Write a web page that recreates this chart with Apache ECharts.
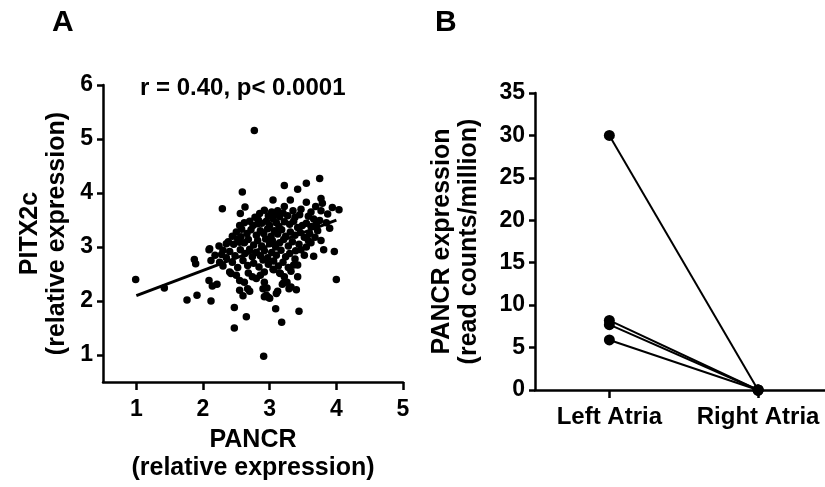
<!DOCTYPE html>
<html>
<head>
<meta charset="utf-8">
<script src="https://cdn.jsdelivr.net/npm/echarts@6/dist/echarts.min.js"></script>
<style>
  html, body { margin: 0; padding: 0; background: #fff; }
  #main { width: 825px; height: 487px; }
</style>
</head>
<body>
<div id="main"></div>
<script>
// panel A: PANCR vs PITX2c, one [x, y] pair per sample
var scatterPoints = [
  [2.77, 5.16],
  [2.59, 4.02], [2.29, 3.71], [2.63, 3.74], [2.56, 3.62],
  [3.22, 4.14], [3.42, 4.07], [3.55, 4.18], [3.75, 4.27],
  [3.05, 3.87], [3.31, 3.87], [3.55, 3.83], [3.77, 3.90], [3.79, 3.81], [3.69, 3.75],
  [3.94, 3.73], [4.04, 3.69], [3.62, 3.65], [3.77, 3.67], [3.87, 3.61], [3.47, 3.70],
  [3.35, 3.67], [3.22, 3.75], [3.12, 3.67], [3.75, 3.49], [3.49, 3.40],
  [0.99, 2.40], [1.42, 2.24], [1.76, 2.02], [1.91, 2.11], [2.12, 2.00], [2.09, 2.38],
  [2.14, 2.28], [2.21, 2.31],
  [2.09, 2.95], [1.87, 2.77], [1.89, 2.69], [2.30, 2.94], [2.35, 3.06], [2.12, 2.75], [2.25, 2.72],
  [2.47, 1.88], [2.65, 1.71], [2.47, 1.50], [2.91, 0.98],
  [2.55, 2.20], [2.67, 2.23], [2.60, 2.10], [2.80, 2.42], [2.40, 2.54], [2.55, 2.38],
  [2.92, 2.54], [2.95, 2.11],
  [3.06, 2.58], [3.16, 2.51], [2.92, 2.35], [2.96, 2.24], [3.10, 2.14], [2.92, 2.08],
  [3.00, 2.05], [3.19, 2.31], [3.26, 2.35], [3.29, 2.23], [3.40, 2.21], [3.42, 2.45],
  [3.32, 2.55], [3.42, 2.67],
  [3.09, 1.86], [3.44, 1.81], [3.18, 1.61],
  [4.00, 2.40], [3.97, 2.92], [3.81, 2.95], [3.66, 2.83], [3.77, 3.12], [3.55, 3.00],
  [3.47, 2.95], [3.62, 3.08], [3.39, 2.93],
  [2.10, 2.97], [2.55, 3.09], [2.57, 3.19], [2.82, 3.43],
  [2.42, 2.51], [2.70, 2.18], [2.90, 2.23], [2.98, 2.07], [3.12, 2.18], [3.21, 2.34],
  [3.32, 2.26], [3.36, 2.67], [3.05, 2.59], [3.15, 2.52],
  [2.85, 3.62], [2.92, 3.68], [2.98, 3.58], [3.03, 3.65], [3.08, 3.60], [3.15, 3.56],
  [3.20, 3.63], [3.27, 3.58], [3.38, 3.55], [3.45, 3.60], [3.58, 3.57], [3.66, 3.52],
  [2.78, 3.55], [2.70, 3.48],
  [2.62, 3.45], [2.75, 3.40], [2.83, 3.50], [2.88, 3.44], [2.95, 3.48], [3.00, 3.40],
  [3.05, 3.52], [3.10, 3.45], [3.14, 3.38], [3.22, 3.47], [3.30, 3.42], [3.36, 3.48],
  [3.42, 3.36], [3.55, 3.44], [3.62, 3.38], [3.70, 3.43], [3.85, 3.45], [2.55, 3.40],
  [2.50, 3.28], [2.58, 3.33], [2.66, 3.25], [2.72, 3.32], [2.80, 3.22], [2.86, 3.30],
  [2.91, 3.25], [2.97, 3.34], [3.02, 3.20], [3.07, 3.30], [3.12, 3.24], [3.18, 3.32],
  [3.24, 3.20], [3.31, 3.28], [3.38, 3.22], [3.46, 3.27], [3.52, 3.18], [3.60, 3.25],
  [3.72, 3.30], [3.90, 3.35], [2.44, 3.20],
  [2.38, 3.10], [2.46, 3.05], [2.52, 3.15], [2.62, 3.08], [2.68, 3.14], [2.76, 3.04],
  [2.82, 3.12], [2.88, 3.02], [2.94, 3.15], [3.00, 3.06], [3.04, 3.12], [3.09, 3.00],
  [3.15, 3.08], [3.21, 3.14], [3.28, 3.02], [3.34, 3.10], [3.44, 3.05], [3.58, 3.12],
  [3.68, 3.18], [2.24, 3.02],
  [2.28, 2.86], [2.40, 2.92], [2.48, 2.84], [2.56, 2.95], [2.63, 2.88], [2.70, 2.96],
  [2.74, 2.82], [2.80, 2.90], [2.86, 2.84], [2.92, 2.93], [2.97, 2.80], [3.03, 2.90],
  [3.10, 2.85], [3.17, 2.94], [3.24, 2.82], [3.30, 2.88], [3.52, 2.85], [2.18, 2.85],
  [2.30, 2.65], [2.44, 2.72], [2.52, 2.62], [2.60, 2.75], [2.67, 2.66], [2.76, 2.70],
  [2.84, 2.63], [2.90, 2.76], [2.98, 2.68], [3.06, 2.74], [3.13, 2.65], [3.20, 2.72],
  [3.28, 2.62], [3.38, 2.78], [2.35, 2.80],
  [2.50, 2.48], [2.68, 2.52], [2.74, 2.45], [2.86, 2.48], [3.22, 2.45], [2.62, 2.35]
];
// fitted line end points
var fitLine = [[1, 2.1], [4, 3.5]];
var xTicksA = [1, 2, 3, 4, 5];
var yTicksA = [1, 2, 3, 4, 5, 6];

// panel B: paired samples (x position 0 = left, 1 = right)
var atria = ['Left Atria', 'Right Atria'];
var leftAtria = [30, 8.2, 7.7, 5.9];
var rightAtria = [0, 0, 0, 0];

var font = '"Liberation Sans", Arial, sans-serif';
var black = '#000';

var pairSeries = leftAtria.map(function (v, i) {
  return {
    type: 'line',
    xAxisIndex: 1,
    yAxisIndex: 1,
    data: [[0, v], [1, rightAtria[i]]],
    symbol: 'circle',
    symbolSize: 11,
    lineStyle: { color: black, width: 2 },
    itemStyle: { color: black },
    silent: true
  };
});

var myChart = echarts.init(document.getElementById('main'));
var option = {
  backgroundColor: '#fff',
  animation: false,
  textStyle: { fontFamily: font, color: black },
  graphic: [
    { type: 'text', left: 52, top: 8, style: { text: 'A', font: 'bold 30px ' + font, fill: black } },
    { type: 'text', left: 435, top: 8, style: { text: 'B', font: 'bold 30px ' + font, fill: black } },
    { type: 'text', left: 140, top: 76, style: { text: 'r = 0.40, p< 0.0001', font: 'bold 24px ' + font, fill: black } }
  ],
  grid: [
    { left: 103, top: 85, width: 300, bottom: 103 },
    { left: 535, top: 93, right: 0, bottom: 97 }
  ],
  xAxis: [
    {
      gridIndex: 0,
      type: 'value',
      min: 0.5,
      max: 5,
      name: 'PANCR\n(relative expression)',
      nameLocation: 'middle',
      nameGap: 40,
      nameTextStyle: { fontSize: 25, fontWeight: 'bold', lineHeight: 28, color: black },
      axisLine: { onZero: false, lineStyle: { color: black, width: 2.5 } },
      axisTick: { show: true, customValues: xTicksA, length: 8, lineStyle: { color: black, width: 2.5 } },
      axisLabel: { customValues: xTicksA, fontSize: 23, fontWeight: 'bold', color: black, margin: 16 },
      splitLine: { show: false }
    },
    {
      gridIndex: 1,
      type: 'value',
      min: -0.5,
      max: 1.45,
      axisLine: { onZero: false, lineStyle: { color: black, width: 2.5 } },
      axisTick: { show: true, customValues: [0, 1], length: 8, lineStyle: { color: black, width: 2.5 } },
      axisLabel: {
        customValues: [0, 1],
        formatter: function (v) { return atria[Math.round(v)]; },
        fontSize: 24, fontWeight: 'bold', color: black, margin: 15
      },
      splitLine: { show: false }
    }
  ],
  yAxis: [
    {
      gridIndex: 0,
      type: 'value',
      min: 0.5,
      max: 6,
      name: 'PITX2c\n(relative expression)',
      nameLocation: 'middle',
      nameGap: 32,
      nameRotate: 90,
      nameTextStyle: { fontSize: 25, fontWeight: 'bold', lineHeight: 27, color: black },
      axisLine: { show: true, onZero: false, lineStyle: { color: black, width: 2.5 } },
      axisTick: { show: true, customValues: yTicksA, length: 6, lineStyle: { color: black, width: 2.5 } },
      axisLabel: { customValues: yTicksA, fontSize: 23, fontWeight: 'bold', color: black, margin: 10 },
      splitLine: { show: false }
    },
    {
      gridIndex: 1,
      type: 'value',
      min: 0,
      max: 35,
      interval: 5,
      name: 'PANCR expression\n(read counts/million)',
      nameLocation: 'middle',
      nameGap: 52,
      nameRotate: 90,
      nameTextStyle: { fontSize: 25, fontWeight: 'bold', lineHeight: 27, color: black },
      axisLine: { show: true, onZero: false, lineStyle: { color: black, width: 2.5 } },
      axisTick: { show: true, length: 6, lineStyle: { color: black, width: 2.5 } },
      axisLabel: { fontSize: 23, fontWeight: 'bold', color: black, margin: 10 },
      splitLine: { show: false }
    }
  ],
  series: [
    {
      type: 'scatter',
      xAxisIndex: 0,
      yAxisIndex: 0,
      data: scatterPoints,
      symbolSize: 7.5,
      itemStyle: { color: black, opacity: 1 },
      silent: true
    },
    {
      type: 'line',
      xAxisIndex: 0,
      yAxisIndex: 0,
      data: fitLine,
      symbol: 'none',
      lineStyle: { color: black, width: 3 },
      silent: true
    }
  ].concat(pairSeries)
};
myChart.setOption(option);
</script>
</body>
</html>
